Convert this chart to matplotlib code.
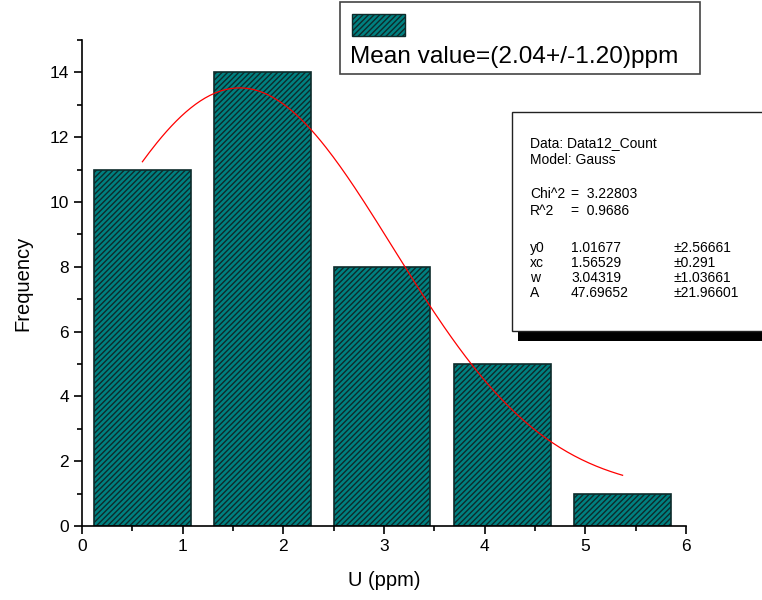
import matplotlib.pyplot as plt
import numpy as np
from matplotlib.patches import Rectangle

plt.rcParams['font.family'] = ['Liberation Sans', 'DejaVu Sans']
plt.rcParams['hatch.linewidth'] = 1.0

# histogram bars (bin centres and counts)
centers = [0.60, 1.79, 2.98, 4.18, 5.37]
counts = [11, 14, 8, 5, 1]
bar_width = 0.96

# Gauss fit parameters as reported
y0, xc, w, A = 1.01677, 1.56529, 3.04319, 47.69652

fig = plt.figure(figsize=(7.62, 6.0), dpi=100)
ax = fig.add_axes([82/762, 74/600, 604/762, 486/600])

ax.bar(centers, counts, width=bar_width, color='#008080', edgecolor='#0d2b2b',
       linewidth=1.2, hatch='//////', zorder=2)

xf = np.linspace(centers[0], centers[-1], 200)
yf = y0 + A / (w * np.sqrt(np.pi / 2)) * np.exp(-2 * ((xf - xc) / w) ** 2)
ax.plot(xf, yf, color='red', linewidth=0.9, zorder=3)

ax.set_xlim(0, 6)
ax.set_ylim(0, 15)
ax.set_xticks(np.arange(0, 7, 1))
ax.set_xticks(np.arange(0.5, 6, 1), minor=True)
ax.set_yticks(np.arange(0, 15, 2))
ax.set_yticks(np.arange(1, 16, 2), minor=True)
for s in ['top', 'right']:
    ax.spines[s].set_visible(False)
ax.spines['left'].set_linewidth(1.2)
ax.spines['bottom'].set_linewidth(1.2)
ax.tick_params(which='major', direction='out', length=6, width=1.2, labelsize=12.5)
ax.tick_params(which='minor', direction='out', length=3.5, width=1.2)
ax.set_xlabel('U (ppm)', fontsize=14.5, labelpad=12)
ax.set_ylabel('Frequency', fontsize=14.5, labelpad=12)

# legend box at top
def fx(px):
    return px / 762

def fy(py):
    return 1 - py / 600

fig.patches.append(Rectangle((fx(340), fy(74)), fx(700) - fx(340), fy(2) - fy(74),
                             transform=fig.transFigure, facecolor='white',
                             edgecolor='#444444', linewidth=1.2, zorder=5))
fig.patches.append(Rectangle((fx(352), fy(36)), fx(405) - fx(352), fy(14) - fy(36),
                             transform=fig.transFigure, facecolor='#008080',
                             edgecolor='#0d2b2b', linewidth=1.0, hatch='//////', zorder=6))
fig.text(fx(350), fy(57), 'Mean value=(2.04+/-1.20)ppm', fontsize=17.6,
         va='center', ha='left', zorder=7)

# fit statistics box with shadow
fig.patches.append(Rectangle((fx(518), fy(341)), 1 - fx(518) + 0.01, fy(330) - fy(341),
                             transform=fig.transFigure, facecolor='black',
                             edgecolor='none', zorder=5))
fig.patches.append(Rectangle((fx(512), fy(331)), 1 - fx(512) + 0.01, fy(112) - fy(331),
                             transform=fig.transFigure, facecolor='white',
                             edgecolor='#222222', linewidth=1.0, zorder=6))

stat_rows = [
    (143, 'Data: Data12_Count', None, None),
    (160, 'Model: Gauss', None, None),
    (194, 'Chi^2', '=  3.22803', None),
    (211, 'R^2', '=  0.9686', None),
    (248, 'y0', '1.01677', '\u00b12.56661'),
    (263, 'xc', '1.56529', '\u00b10.291'),
    (278, 'w', '3.04319', '\u00b11.03661'),
    (293, 'A', '47.69652', '\u00b121.96601'),
]
for py, lab, val, err in stat_rows:
    fig.text(fx(530), fy(py), lab, fontsize=10, va='center', ha='left', zorder=7)
    if val:
        fig.text(fx(571), fy(py), val, fontsize=10, va='center', ha='left', zorder=7)
    if err:
        fig.text(fx(673), fy(py), err, fontsize=10, va='center', ha='left', zorder=7)

fig.savefig('out.png', dpi=100)
